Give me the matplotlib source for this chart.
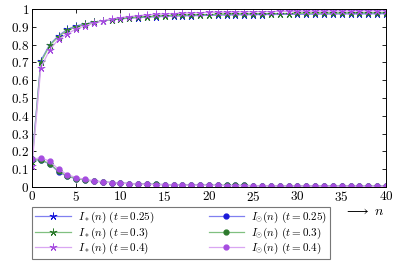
import numpy as np
import matplotlib
matplotlib.use("Agg")
import matplotlib.pyplot as plt

plt.rcParams["mathtext.fontset"] = "cm"
plt.rcParams["font.family"] = "serif"
plt.rcParams["font.serif"] = ["DejaVu Serif"]

n = np.arange(0, 41)

# I_*(n) for the three t values
star_025 = [0.155, 0.71, 0.80, 0.85, 0.885, 0.905, 0.915, 0.925, 0.933, 0.939,
            0.944, 0.948, 0.951, 0.954, 0.956, 0.958, 0.960, 0.961, 0.962, 0.963,
            0.964, 0.965, 0.966, 0.967, 0.967, 0.968, 0.968, 0.969, 0.969, 0.970,
            0.970, 0.970, 0.971, 0.971, 0.971, 0.972, 0.972, 0.972, 0.972, 0.973, 0.973]
star_03 = [0.14, 0.70, 0.795, 0.845, 0.88, 0.90, 0.913, 0.924, 0.933, 0.940,
           0.945, 0.950, 0.953, 0.956, 0.959, 0.961, 0.963, 0.964, 0.966, 0.967,
           0.968, 0.969, 0.970, 0.971, 0.971, 0.972, 0.973, 0.973, 0.974, 0.974,
           0.975, 0.975, 0.975, 0.976, 0.976, 0.976, 0.977, 0.977, 0.977, 0.977, 0.978]
star_04 = [0.12, 0.67, 0.77, 0.83, 0.86, 0.888, 0.905, 0.92, 0.933, 0.943,
           0.951, 0.957, 0.962, 0.966, 0.969, 0.972, 0.974, 0.976, 0.978, 0.979,
           0.980, 0.981, 0.982, 0.983, 0.984, 0.984, 0.985, 0.985, 0.986, 0.986,
           0.987, 0.987, 0.987, 0.988, 0.988, 0.988, 0.988, 0.989, 0.989, 0.989, 0.989]

# I_odot(n) for the three t values
odot_025 = [0.155, 0.15, 0.13, 0.085, 0.06, 0.047, 0.04, 0.034, 0.029, 0.025,
            0.022, 0.020, 0.018, 0.016, 0.015, 0.014, 0.013, 0.012, 0.011, 0.011,
            0.010, 0.010, 0.009, 0.009, 0.009, 0.008, 0.008, 0.008, 0.007, 0.007,
            0.007, 0.007, 0.006, 0.006, 0.006, 0.006, 0.006, 0.005, 0.005, 0.005, 0.005]
odot_03 = [0.155, 0.152, 0.132, 0.088, 0.062, 0.048, 0.04, 0.034, 0.029, 0.025,
           0.022, 0.020, 0.018, 0.016, 0.015, 0.014, 0.013, 0.012, 0.011, 0.011,
           0.010, 0.010, 0.009, 0.009, 0.009, 0.008, 0.008, 0.008, 0.007, 0.007,
           0.007, 0.007, 0.006, 0.006, 0.006, 0.006, 0.006, 0.005, 0.005, 0.005, 0.005]
odot_04 = [0.155, 0.165, 0.145, 0.10, 0.07, 0.053, 0.043, 0.035, 0.029, 0.025,
           0.022, 0.019, 0.017, 0.015, 0.014, 0.013, 0.012, 0.011, 0.010, 0.010,
           0.009, 0.009, 0.008, 0.008, 0.008, 0.007, 0.007, 0.007, 0.006, 0.006,
           0.006, 0.006, 0.006, 0.005, 0.005, 0.005, 0.005, 0.005, 0.004, 0.004, 0.004]

t_labels = ["0.25", "0.3", "0.4"]
mark_colors = ["#1a1ad9", "#2d7a2d", "#a64de0"]
line_colors = ["#8080f0", "#80c080", "#d9a6f2"]

fig = plt.figure(figsize=(3.95, 2.62), dpi=100)
ax = fig.add_axes([0.081, 0.286, 0.896, 0.680])

star_series = [star_025, star_03, star_04]
odot_series = [odot_025, odot_03, odot_04]

for ys, t, mc, lc in zip(star_series, t_labels, mark_colors, line_colors):
    ax.plot(n, ys, color=lc, lw=0.9, marker=(5, 2, 0), ms=5.5, mec=mc, mfc=mc, mew=0.7,
            label=rf"$I_*(n)\ (t={t})$")
for ys, t, mc, lc in zip(odot_series, t_labels, mark_colors, line_colors):
    ax.plot(n, ys, color=lc, lw=0.9, marker="o", ms=3.5, mec=mc, mfc=mc,
            label=rf"$I_{{\odot}}(n)\ (t={t})$")

ax.set_xlim(0, 40)
ax.set_ylim(0, 1)
xt = np.arange(0, 41, 5)
yt = np.round(np.arange(0, 1.01, 0.1), 1)
ax.set_xticks(xt)
ax.set_xticklabels([f"${v}$" for v in xt])
ax.set_yticks(yt)
ax.set_yticklabels(["$0$"] + [f"${v:g}$" for v in yt[1:-1]] + ["$1$"])
ax.tick_params(direction="in", top=True, right=True, length=3, width=0.6,
               labelsize=9.5, pad=2)
for s in ax.spines.values():
    s.set_linewidth(0.7)

fig.text(0.975, 0.195, r"$\longrightarrow\ n$", ha="right", va="center", fontsize=10)

leg = ax.legend(ncol=2, loc="lower left", bbox_to_anchor=(0.081, 0.01, 0.755, 0.185),
                bbox_transform=fig.transFigure, mode="expand", fontsize=8,
                frameon=True, fancybox=False, edgecolor="#555555", borderpad=0.3,
                labelspacing=0.0, handlelength=3.2, handletextpad=0.6,
                columnspacing=1.0, borderaxespad=0)
leg.get_frame().set_linewidth(0.8)

fig.savefig("out.png", dpi=100)
